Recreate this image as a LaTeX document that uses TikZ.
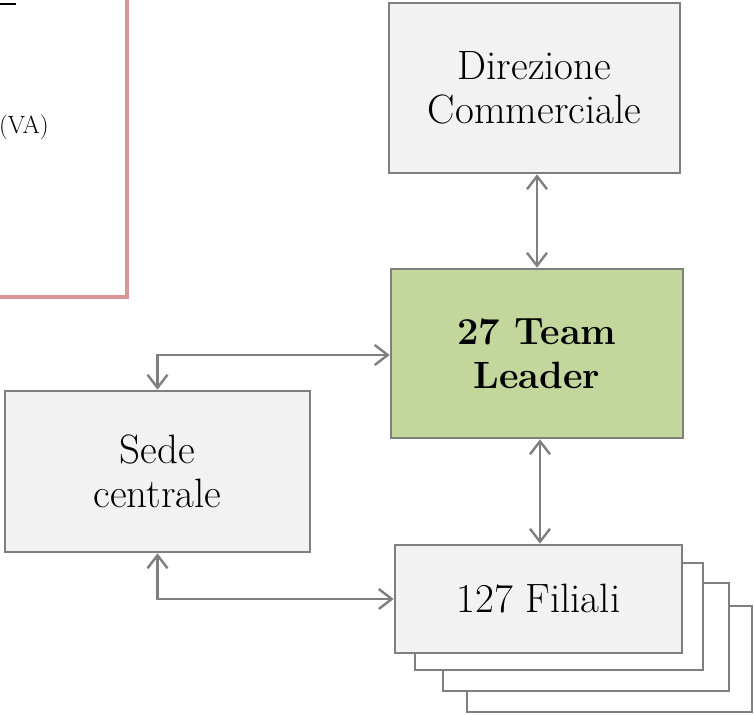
\documentclass[tikz,border=0pt]{standalone}
\usepackage{fontspec}
\usetikzlibrary{arrows.meta}
\definecolor{boxgray}{HTML}{7F7F7F}
\definecolor{boxfill}{HTML}{F2F2F2}
\definecolor{tlgreen}{HTML}{C3D69B}
\definecolor{pinkline}{HTML}{D99694}
\begin{document}
\begin{tikzpicture}[x=1pt,y=-1pt,
  box/.style={draw=boxgray, line width=2.6pt, fill=boxfill, rectangle, inner sep=0pt, align=center,
     font=\fontsize{41}{44}\selectfont},
  stackbox/.style={draw=boxgray, line width=2.6pt, fill=white, rectangle, inner sep=0pt},
  link/.style={draw=boxgray, line width=2.4pt, {Straight Barb[length=13pt,width=20pt]}-{Straight Barb[length=13pt,width=20pt]}}
]
\useasboundingbox (0,0) rectangle (754,714);
\clip (0,0) rectangle (754,714);
% partial box top-left
\draw[pinkline, line width=3.2pt] (-20,-20) -- (127,-20) -- (127,297) -- (-20,297);
\draw[black, line width=1.3pt] (-5,4) -- (16,4);
\node[anchor=east, inner sep=0pt, font=\fontsize{25}{28}\selectfont] (va) at (49,127) {(VA)};
% main boxes
\node[box, minimum width=291pt, minimum height=170pt] (dir) at (534.5,88) {Direzione\\Commerciale};
\node[box, fill=tlgreen, minimum width=292pt, minimum height=169pt, font=\fontsize{38}{44}\selectfont\bfseries] (tl) at (537,353.5) {27 Team\\Leader};
\node[box, minimum width=305pt, minimum height=161pt] (sede) at (157.5,471.5) {Sede\\centrale};
% stacked filiali
\node[stackbox, minimum width=285pt, minimum height=106pt] (fil4) at (609.5,659) {};
\node[stackbox, minimum width=286pt, minimum height=108pt] (fil3) at (586,637) {};
\node[stackbox, minimum width=288pt, minimum height=107pt] (fil2) at (559,616.5) {};
\node[box, minimum width=287pt, minimum height=108pt] (fil) at (538.5,599) {127 Filiali};
% connectors
\draw[link] (tl.north |- dir.south) -- (tl.north);
\draw[link] ([xshift=3pt]tl.south) -- ([xshift=3pt]tl.south |- fil.north);
\draw[link] (sede.north) -- ([yshift=-1.5pt]sede.north |- tl.west) -- ([yshift=-1.5pt]tl.west);
\draw[link] (sede.south) -- (sede.south |- fil.west) -- (fil.west);
\end{tikzpicture}
\end{document}
